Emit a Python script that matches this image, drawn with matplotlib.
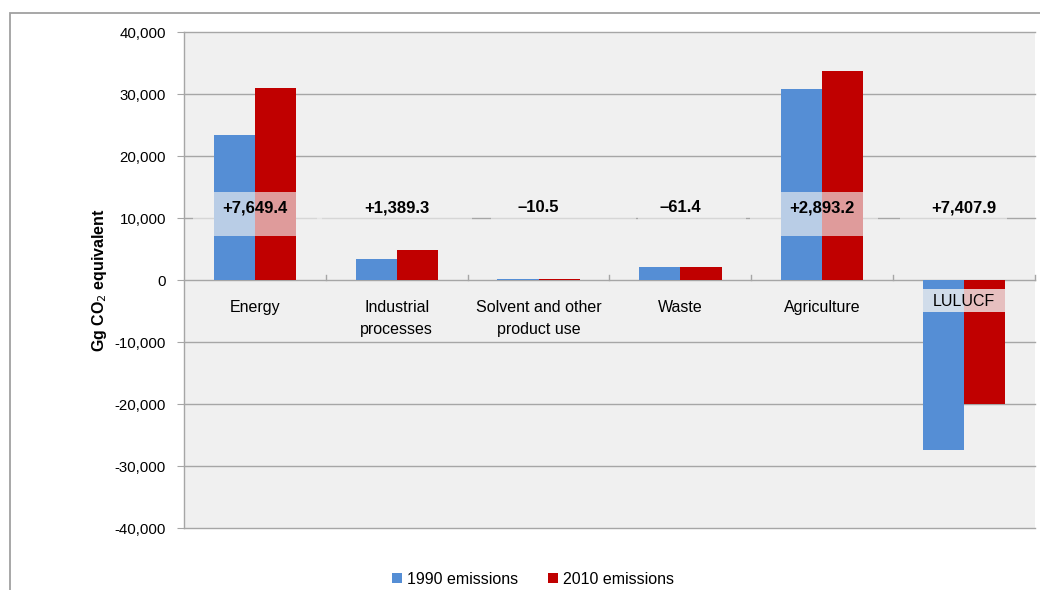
import matplotlib
matplotlib.use("Agg")
import matplotlib.pyplot as plt
from matplotlib.patches import Rectangle, Patch
from matplotlib.ticker import FuncFormatter

plt.rcParams['font.family'] = ['Liberation Sans', 'DejaVu Sans']
plt.rcParams['axes.unicode_minus'] = False

categories = ["Energy", "Industrial\nprocesses", "Solvent and other\nproduct use",
              "Waste", "Agriculture", "LULUCF"]
emissions_1990 = [23350, 3400, 190, 2110, 30760, -27400]
emissions_2010 = [31000, 4789, 180, 2050, 33653, -19990]
change_labels = ["+7,649.4", "+1,389.3", "\u201310.5", "\u201361.4", "+2,893.2", "+7,407.9"]
series_names = ["1990 emissions", "2010 emissions"]
yticks = [-40000, -30000, -20000, -10000, 0, 10000, 20000, 30000, 40000]

# label box spans (category units) and vertical band
box_left = [-0.44, 0.44, 1.665, 2.70, 3.49, 4.55]
box_right = [0.47, 1.53, 2.69, 3.46, 4.39, 5.30]
box_y0, box_y1 = 7070, 14140
label_y = 11650

blue = "#558ed5"
red = "#c00000"
grid_c = "#a6a6a6"
bg = "#f0f0f0"

fig = plt.figure(figsize=(10.4, 5.9), dpi=100)
ax = fig.add_axes([184/1040, 1-528/590, (1035-184)/1040, (528-32)/590])
ax.set_facecolor(bg)

x = list(range(len(categories)))
w = 0.29
ax.bar([i - w/2 for i in x], emissions_1990, width=w, color=blue, zorder=2, label=series_names[0])
ax.bar([i + w/2 for i in x], emissions_2010, width=w, color=red, zorder=2, label=series_names[1])

ax.set_xlim(-0.5, len(categories) - 0.5)
ax.set_ylim(-40000, 40000)
ax.set_yticks(yticks)
ax.yaxis.set_major_formatter(FuncFormatter(lambda v, p: f"{v:,.0f}"))
for yv in yticks:
    ax.axhline(yv, color=grid_c, lw=1.0, zorder=1, clip_on=False)
ax.tick_params(axis='y', direction='out', length=5, color=grid_c, labelsize=10.8, pad=8)
ax.set_xticks([])
for s in ['top', 'right', 'bottom']:
    ax.spines[s].set_visible(False)
ax.spines['left'].set_color(grid_c)
ax.spines['left'].set_linewidth(1.0)

# category boundary ticks on zero axis (pointing up)
for b in range(len(categories)):
    ax.plot([b + 0.5, b + 0.5], [0, 800], color=grid_c, lw=1.0, zorder=1, clip_on=False)

# change label boxes
for i, lab in enumerate(change_labels):
    ax.add_patch(Rectangle((box_left[i], box_y0), box_right[i] - box_left[i], box_y1 - box_y0,
                           facecolor=bg, alpha=0.65, edgecolor='none', zorder=3))
    ax.text(i, label_y, lab, ha='center', va='center', fontsize=12, fontweight='bold', zorder=4)

# category labels
for i, cat in enumerate(categories):
    if cat == "LULUCF":
        ax.add_patch(Rectangle((4.7, -5140), 0.6, 5140 - 1446, facecolor=bg, alpha=0.8,
                               edgecolor='none', zorder=3))
        ax.text(i, -3530, cat, ha='center', va='center', fontsize=11.5, zorder=4)
    else:
        ax.text(i, -3150, cat, ha='center', va='top', fontsize=11.5, linespacing=1.6, zorder=4)

ax.set_ylabel("Gg CO$_2$ equivalent", fontsize=11.5, fontweight='bold', labelpad=4)

handles = [Patch(facecolor=blue), Patch(facecolor=red)]
fig.legend(handles, series_names, loc='center', bbox_to_anchor=(533/1040, 1-579/590),
           ncol=2, frameon=False, fontsize=11.5, handlelength=0.6, handleheight=0.6,
           handletextpad=0.3, columnspacing=1.9)

# outer frame
fig.add_artist(Rectangle((10/1040, -0.1), 1.2, 1.1 - 13/590, transform=fig.transFigure,
                         fill=False, edgecolor='#a0a0a0', lw=1.3))

fig.savefig("out.png", dpi=100, facecolor='white')
